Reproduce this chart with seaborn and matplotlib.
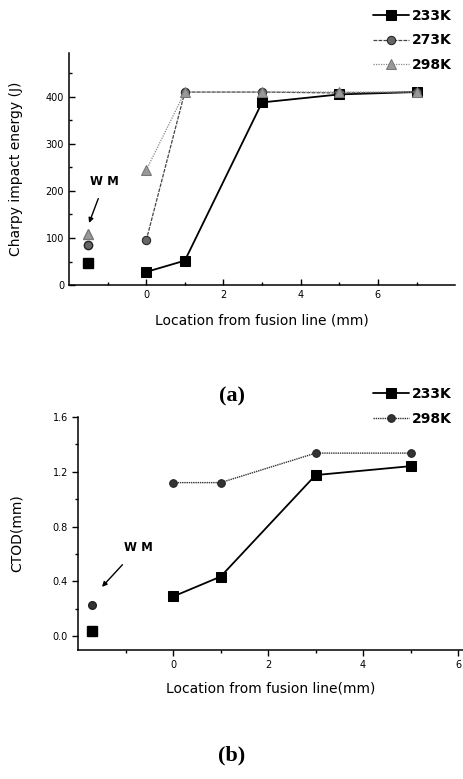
import numpy as np
import pandas as pd
import matplotlib
matplotlib.use("Agg")
import matplotlib.pyplot as plt
import seaborn as sns

# ------------------ Data ------------------
# (a) Charpy impact energy
loc_a = [0, 1, 3, 5, 7]
wm_x_a = -1.5
charpy_233 = [28, 52, 388, 405, 410]
charpy_273 = [95, 410, 410, 408, 410]
charpy_298 = [244, 410, 410, 410, 410]
charpy_wm = {"233K": 47, "273K": 86, "298K": 108}

# (b) CTOD
loc_b = [0, 1, 3, 5]
wm_x_b = -1.7
ctod_233 = [0.29, 0.435, 1.175, 1.24]
ctod_298 = [1.12, 1.12, 1.335, 1.335]
ctod_wm = {"233K": 0.04, "298K": 0.23}

# ------------------ Style ------------------
sns.set_style("ticks")
plt.rcParams["font.family"] = ["DejaVu Sans"]
plt.rcParams["axes.linewidth"] = 1.1
for k in ("text.color", "axes.labelcolor", "xtick.color", "ytick.color", "axes.edgecolor"):
    plt.rcParams[k] = "black"

fig = plt.figure(figsize=(4.63, 7.79), dpi=100)
ax1 = fig.add_axes([0.149, 0.634, 0.834, 0.298])
ax2 = fig.add_axes([0.169, 0.1656, 0.8305, 0.2994])

# series styles
sty = {
    "233K": dict(color="black", linestyle="-", linewidth=1.3, marker="s",
                 markersize=7.5, markerfacecolor="black", markeredgecolor="black"),
    "273K": dict(color="#444444", linestyle=(0, (3, 1)), linewidth=0.9, marker="o",
                 markersize=6, markerfacecolor="#666666", markeredgecolor="#222222"),
    "298K": dict(color="#888888", linestyle=(0, (1, 1)), linewidth=0.9, marker="^",
                 markersize=6.5, markerfacecolor="#999999", markeredgecolor="#777777"),
}

# ------------------ (a) ------------------
for name, vals in [("233K", charpy_233), ("273K", charpy_273), ("298K", charpy_298)]:
    sns.lineplot(x=loc_a, y=vals, ax=ax1, label=name, errorbar=None, **sty[name])
    s = {k: v for k, v in sty[name].items() if k not in ("linestyle", "linewidth", "color")}
    ax1.plot([wm_x_a], [charpy_wm[name]], linestyle="none", **s)

ax1.set_xlim(-2, 8)
ax1.set_ylim(0, 493)
ax1.set_xticks([0, 2, 4, 6])
ax1.set_xticks([-1, 1, 3, 5, 7], minor=True)
ax1.set_yticks([0, 100, 200, 300, 400])
ax1.set_yticks([50, 150, 250, 350, 450], minor=True)
ax1.tick_params(which="both", direction="in", labelsize=7, width=1)
ax1.tick_params(which="major", length=4)
ax1.tick_params(which="minor", length=2.5)
ax1.set_xlabel("Location from fusion line (mm)", fontsize=10, labelpad=10)
ax1.set_ylabel("Charpy impact energy (J)", fontsize=10, labelpad=16)
ax1.annotate("W M", xy=(-1.48, 132), xytext=(-1.07, 221), fontsize=8.5, fontweight="bold",
             ha="center", va="center",
             arrowprops=dict(arrowstyle="-|>", color="black", lw=1, shrinkA=6, shrinkB=0,
                             mutation_scale=7))
sns.despine(ax=ax1)
h, l = ax1.get_legend_handles_labels()
ax1.get_legend().remove()
fig.legend(h, l, loc="upper right", bbox_to_anchor=(1.003, 1.005), frameon=False,
           prop=dict(size=10, weight="bold"), handlelength=2.6, labelspacing=0.78,
           handletextpad=0.2)

# ------------------ (b) ------------------
for name, vals in [("233K", ctod_233), ("298K", ctod_298)]:
    st = dict(sty[name])
    if name == "298K":
        st.update(color="#333333", linestyle=(0, (1, 0.6)), linewidth=1.0,
                  marker="o", markersize=5.5, markerfacecolor="#333333",
                  markeredgecolor="#222222")
    else:
        st.update(markersize=6.5)
    sns.lineplot(x=loc_b, y=vals, ax=ax2, label=name, errorbar=None, **st)
    s = {k: v for k, v in st.items() if k not in ("linestyle", "linewidth", "color")}
    ax2.plot([wm_x_b], [ctod_wm[name]], linestyle="none", **s)

ax2.set_xlim(-2, 6.1)
ax2.set_ylim(-0.1, 1.6)
ax2.set_xticks([0, 2, 4, 6])
ax2.set_xticks([-1, 1, 3, 5], minor=True)
ax2.set_yticks([0.0, 0.4, 0.8, 1.2, 1.6])
ax2.set_yticks([0.2, 0.6, 1.0, 1.4], minor=True)
ax2.set_yticklabels(["0.0", "0.4", "0.8", "1.2", "1.6"])
ax2.tick_params(which="both", direction="out", labelsize=7, width=1)
ax2.tick_params(which="major", length=4)
ax2.tick_params(which="minor", length=2.5)
ax2.set_xlabel("Location from fusion line(mm)", fontsize=10, labelpad=8)
ax2.set_ylabel("CTOD(mm)", fontsize=10, labelpad=21)
ax2.annotate("W M", xy=(-1.5, 0.36), xytext=(-0.74, 0.645), fontsize=8.5, fontweight="bold",
             ha="center", va="center",
             arrowprops=dict(arrowstyle="-|>", color="black", lw=1, shrinkA=7, shrinkB=0,
                             mutation_scale=7))
sns.despine(ax=ax2)
h, l = ax2.get_legend_handles_labels()
ax2.get_legend().remove()
fig.legend(h, l, loc="upper right", bbox_to_anchor=(1.003, 0.519), frameon=False,
           prop=dict(size=10, weight="bold"), handlelength=2.6, labelspacing=0.78,
           handletextpad=0.2)

# ------------------ Captions ------------------
fig.text(0.501, 0.491, "(a)", fontsize=16, fontweight="bold", family="Liberation Serif",
         ha="center", va="center")
fig.text(0.501, 0.030, "(b)", fontsize=16, fontweight="bold", family="Liberation Serif",
         ha="center", va="center")

fig.savefig("out.png", dpi=100)
